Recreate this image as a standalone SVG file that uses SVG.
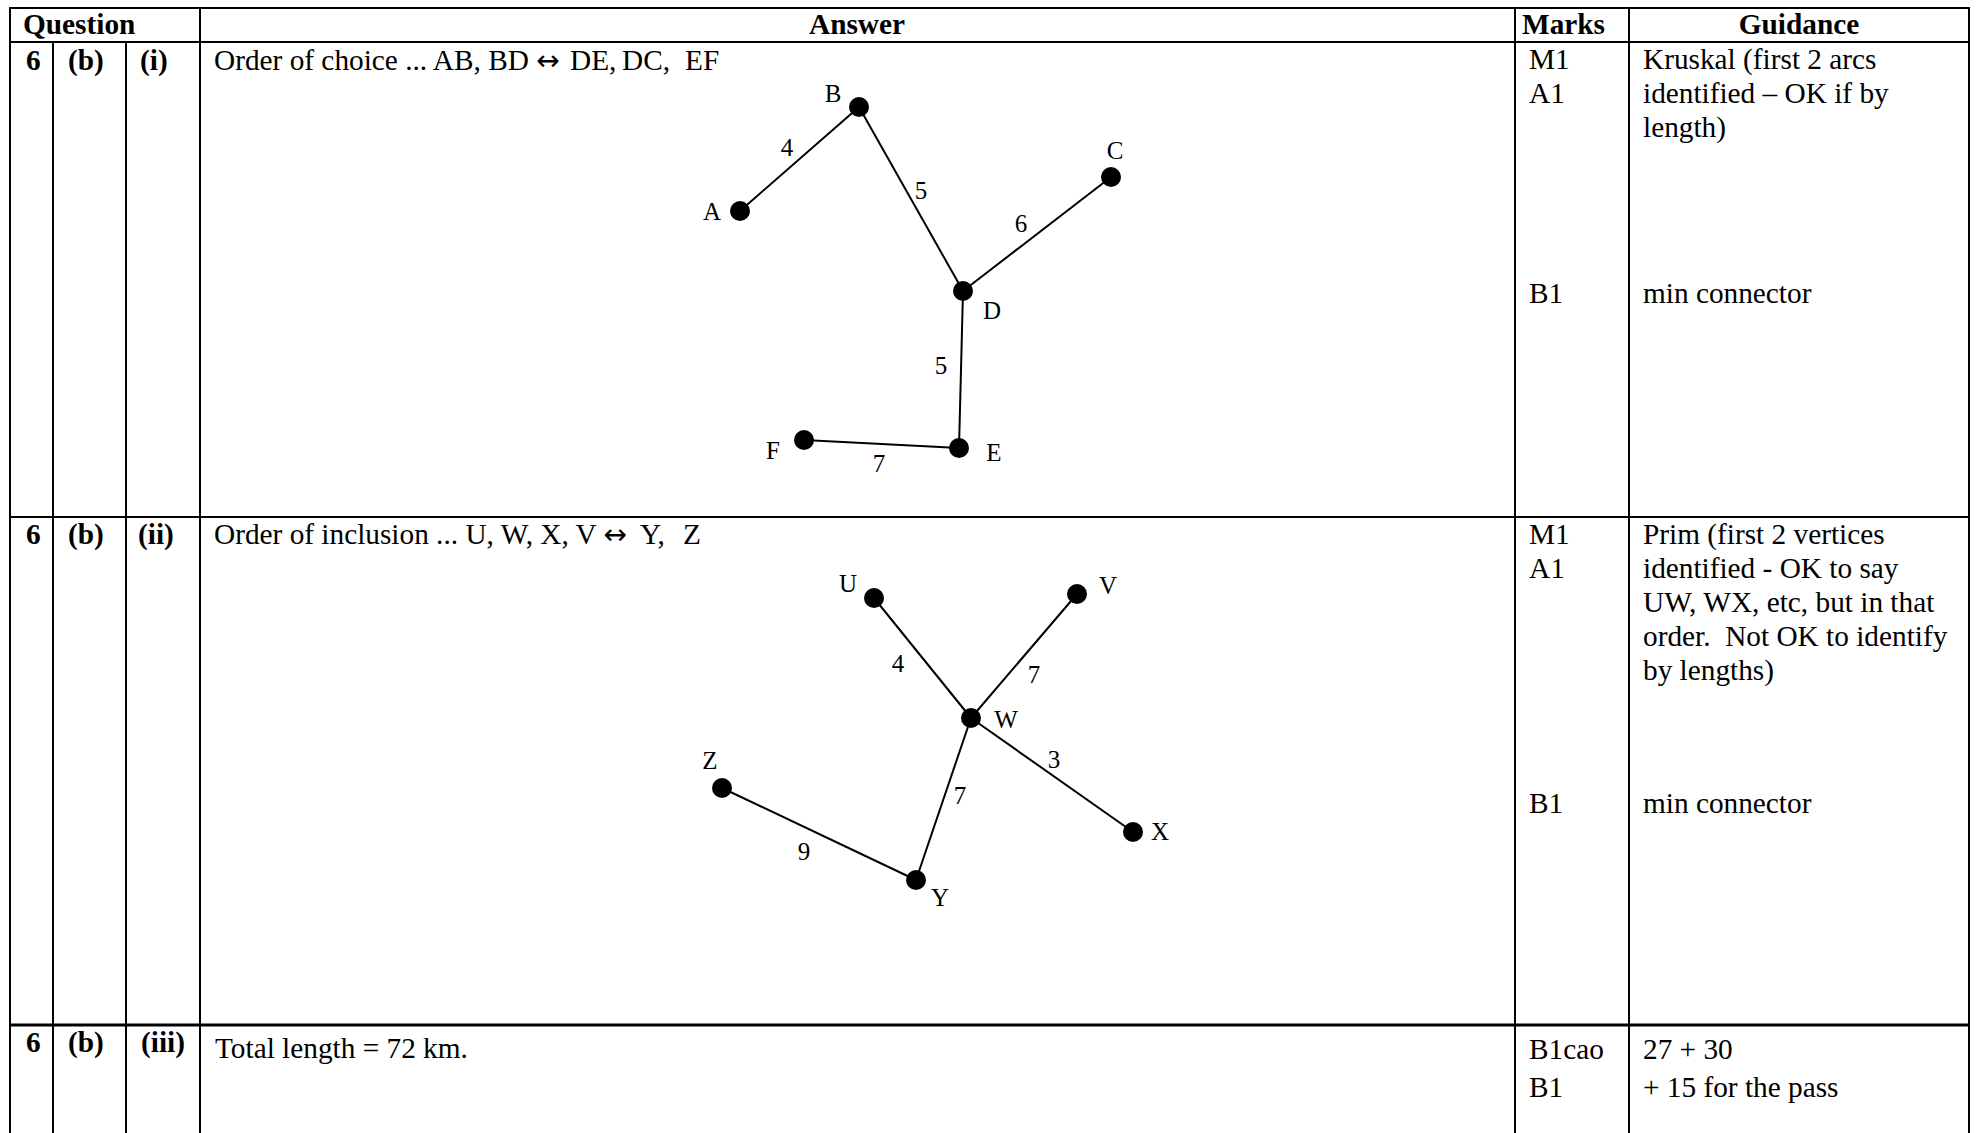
<svg xmlns="http://www.w3.org/2000/svg" width="1977" height="1133" viewBox="0 0 1977 1133">
<style>
.t{font-family:"Liberation Serif","Times New Roman",serif;font-size:29.3px;fill:#000}
.b{font-weight:bold}
.m{text-anchor:middle}
.arr{font-family:"DejaVu Sans",sans-serif;font-size:28px}
.lbl{font-family:"Liberation Serif","Times New Roman",serif;font-size:25px;fill:#000;text-anchor:middle}
.grid line{stroke:#000;stroke-width:2}
.edge line{stroke:#000;stroke-width:2}
.node circle{fill:#000}
</style>
<rect width="1977" height="1133" fill="#fff"/>
<g class="grid">
<line x1="10" y1="8" x2="1969" y2="8"/>
<line x1="10" y1="42" x2="1969" y2="42"/>
<line x1="10" y1="517" x2="1969" y2="517"/>
<line x1="10" y1="1025" x2="1969" y2="1025" style="stroke-width:3"/>
<line x1="10" y1="7" x2="10" y2="1133"/>
<line x1="53" y1="42" x2="53" y2="1133"/>
<line x1="126" y1="42" x2="126" y2="1133"/>
<line x1="200" y1="7" x2="200" y2="1133"/>
<line x1="1515" y1="7" x2="1515" y2="1133"/>
<line x1="1629" y1="7" x2="1629" y2="1133"/>
<line x1="1969" y1="7" x2="1969" y2="1133"/>
</g>
<g id="header">
<text class="t b" x="23" y="34">Question</text>
<text class="t b m" x="857" y="34">Answer</text>
<text class="t b" x="1522" y="34">Marks</text>
<text class="t b m" x="1799" y="34">Guidance</text>
</g>
<g id="row1">
<text class="t b" x="26" y="70">6</text>
<text class="t b" x="68" y="70">(b)</text>
<text class="t b" x="140" y="70">(i)</text>
<text class="t" x="214" y="70">Order of choice ... AB, BD <tspan class="arr">↔</tspan> <tspan x="570">DE,</tspan> <tspan x="622">DC,</tspan> <tspan x="685">EF</tspan></text>
<text class="t" x="1529" y="69">M1</text>
<text class="t" x="1529" y="103">A1</text>
<text class="t" x="1529" y="303">B1</text>
<text class="t" x="1643" y="69">Kruskal (first 2 arcs</text>
<text class="t" x="1643" y="103">identified – OK if by</text>
<text class="t" x="1643" y="137">length)</text>
<text class="t" x="1643" y="303">min connector</text>
</g>
<g id="row2">
<text class="t b" x="26" y="544">6</text>
<text class="t b" x="68" y="544">(b)</text>
<text class="t b" x="138" y="544">(ii)</text>
<text class="t" x="214" y="544">Order of inclusion ... U, W, X, V <tspan class="arr">↔</tspan> <tspan x="640">Y,</tspan> <tspan x="683">Z</tspan></text>
<text class="t" x="1529" y="544">M1</text>
<text class="t" x="1529" y="578">A1</text>
<text class="t" x="1529" y="813">B1</text>
<text class="t" x="1643" y="544">Prim (first 2 vertices</text>
<text class="t" x="1643" y="578">identified - OK to say</text>
<text class="t" x="1643" y="612">UW, WX, etc, but in that</text>
<text class="t" x="1643" y="646" xml:space="preserve">order.  Not OK to identify</text>
<text class="t" x="1643" y="680">by lengths)</text>
<text class="t" x="1643" y="813">min connector</text>
</g>
<g id="row3">
<text class="t b" x="26" y="1052">6</text>
<text class="t b" x="68" y="1052">(b)</text>
<text class="t b" x="141" y="1052">(iii)</text>
<text class="t" x="215" y="1058">Total length = 72 km.</text>
<text class="t" x="1529" y="1059">B1cao</text>
<text class="t" x="1529" y="1097">B1</text>
<text class="t" x="1643" y="1059">27 + 30</text>
<text class="t" x="1643" y="1097">+ 15 for the pass</text>
</g>
<g id="connectors" class="edge">
<line x1="740" y1="211" x2="859" y2="107"/>
<line x1="859" y1="107" x2="963" y2="291"/>
<line x1="963" y1="291" x2="1111" y2="177"/>
<line x1="963" y1="291" x2="959" y2="448"/>
<line x1="959" y1="448" x2="804" y2="440"/>
<line x1="874" y1="598" x2="971" y2="718"/>
<line x1="1077" y1="594" x2="971" y2="718"/>
<line x1="971" y1="718" x2="1133" y2="832"/>
<line x1="971" y1="718" x2="916" y2="880"/>
<line x1="916" y1="880" x2="722" y2="788"/>
</g>
<g id="edge-labels" class="lbl">
<text x="787" y="156">4</text>
<text x="921" y="199">5</text>
<text x="1021" y="232">6</text>
<text x="941" y="374">5</text>
<text x="879" y="472">7</text>
<text x="898" y="672">4</text>
<text x="1034" y="683">7</text>
<text x="1054" y="768">3</text>
<text x="960" y="804">7</text>
<text x="804" y="860">9</text>
</g>
<g id="node-A" class="node"><circle cx="740" cy="211" r="10"/><text class="lbl" x="712" y="220">A</text></g>
<g id="node-B" class="node"><circle cx="859" cy="107" r="10"/><text class="lbl" x="833" y="102">B</text></g>
<g id="node-C" class="node"><circle cx="1111" cy="177" r="10"/><text class="lbl" x="1115" y="159">C</text></g>
<g id="node-D" class="node"><circle cx="963" cy="291" r="10"/><text class="lbl" x="992" y="319">D</text></g>
<g id="node-E" class="node"><circle cx="959" cy="448" r="10"/><text class="lbl" x="994" y="461">E</text></g>
<g id="node-F" class="node"><circle cx="804" cy="440" r="10"/><text class="lbl" x="773" y="459">F</text></g>
<g id="node-U" class="node"><circle cx="874" cy="598" r="10"/><text class="lbl" x="848" y="592">U</text></g>
<g id="node-V" class="node"><circle cx="1077" cy="594" r="10"/><text class="lbl" x="1108" y="594">V</text></g>
<g id="node-W" class="node"><circle cx="971" cy="718" r="10"/><text class="lbl" x="1006" y="728">W</text></g>
<g id="node-X" class="node"><circle cx="1133" cy="832" r="10"/><text class="lbl" x="1160" y="840">X</text></g>
<g id="node-Y" class="node"><circle cx="916" cy="880" r="10"/><text class="lbl" x="940" y="906">Y</text></g>
<g id="node-Z" class="node"><circle cx="722" cy="788" r="10"/><text class="lbl" x="710" y="769">Z</text></g>
</svg>
